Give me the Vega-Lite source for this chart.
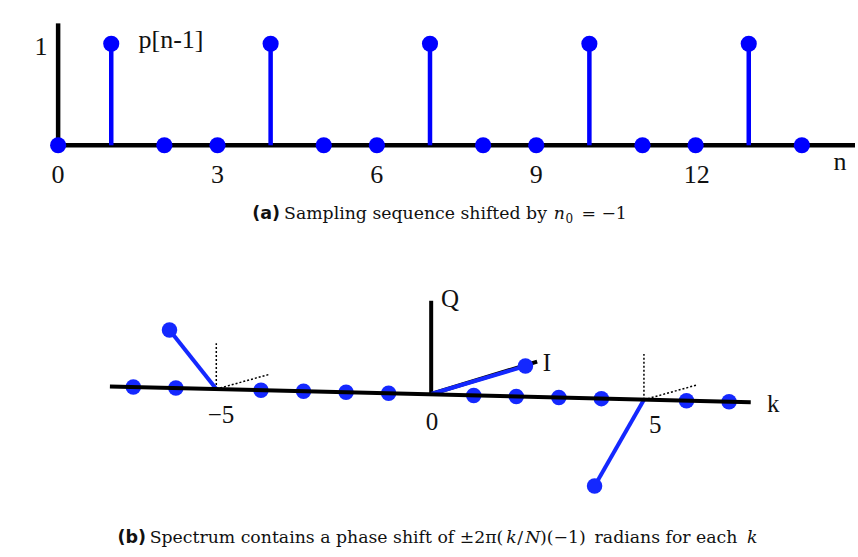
{
  "$schema": "https://vega.github.io/schema/vega-lite/v6.json",
  "width": 858,
  "height": 557,
  "autosize": {"type": "fit", "contains": "padding"},
  "padding": 0,
  "background": "white",
  "config": {"view": {"stroke": null}, "axis": {"disable": true}},
  "datasets": {
    "seq": [
      {"n": 0, "p": 0}, {"n": 1, "p": 1}, {"n": 2, "p": 0}, {"n": 3, "p": 0}, {"n": 4, "p": 1},
      {"n": 5, "p": 0}, {"n": 6, "p": 0}, {"n": 7, "p": 1}, {"n": 8, "p": 0}, {"n": 9, "p": 0},
      {"n": 10, "p": 1}, {"n": 11, "p": 0}, {"n": 12, "p": 0}, {"n": 13, "p": 1}, {"n": 14, "p": 0}
    ],
    "axesA": [
      {"x0": 0, "y0": 0, "x1": 15, "y1": 0},
      {"x0": 0, "y0": 0, "x1": 0, "y1": 1.2}
    ],
    "labelsA": [
      {"x": 0, "y": -0.374, "text": "0"},
      {"x": 3, "y": -0.374, "text": "3"},
      {"x": 6, "y": -0.374, "text": "6"},
      {"x": 9, "y": -0.374, "text": "9"},
      {"x": 12.02, "y": -0.374, "text": "12"},
      {"x": 14.72, "y": -0.244, "text": "n"},
      {"x": -0.32, "y": 0.889, "text": "1"},
      {"x": 2.124, "y": 0.955, "text": "p[n-1]"}
    ],
    "capA_bold": [{"x": 3.653, "y": -0.725, "text": "(a)"}],
    "capA_roman": [
      {"x": 4.253, "y": -0.725, "text": "Sampling sequence shifted by"},
      {"x": 9.85, "y": -0.725, "text": "= −1"}
    ],
    "capA_italic": [{"x": 9.33, "y": -0.725, "text": "n"}],
    "capA_sub": [{"x": 9.55, "y": -0.765, "text": "0"}],
    "spectrum": [
      {"k": -7, "u": -7, "v": 0.083},
      {"k": -6, "u": -6, "v": 0.071},
      {"k": -5, "u": -6.15, "v": 0.762, "u0": -5.05, "v0": 0.059},
      {"k": -4, "u": -4, "v": 0.046},
      {"k": -3, "u": -3, "v": 0.033},
      {"k": -2, "u": -2, "v": 0.020},
      {"k": -1, "u": -1, "v": 0.008},
      {"k": 0, "u": 2.215, "v": 0.333, "u0": 0, "v0": 0},
      {"k": 1, "u": 1, "v": -0.017},
      {"k": 2, "u": 2, "v": -0.030},
      {"k": 3, "u": 3, "v": -0.042},
      {"k": 4, "u": 4, "v": -0.055},
      {"k": 5, "u": 3.84, "v": -1.095, "u0": 5.0, "v0": -0.068},
      {"k": 6, "u": 6, "v": -0.080},
      {"k": 7, "u": 7, "v": -0.093}
    ],
    "guidesB": [
      {"u0": -5.05, "v0": 0.059, "u1": -5.05, "v1": 0.604},
      {"u0": -5.05, "v0": 0.059, "u1": -3.81, "v1": 0.233},
      {"u0": 5.0, "v0": -0.068, "u1": 5.0, "v1": 0.476},
      {"u0": 5.0, "v0": -0.068, "u1": 6.24, "v1": 0.107}
    ],
    "iqAxes": [
      {"u0": 0, "v0": 0, "u1": 0, "v1": 1.11},
      {"u0": 0, "v0": 0, "u1": 2.49, "v1": 0.385}
    ],
    "kAxis": [{"u0": -7.55, "v0": 0.09, "u1": 7.51, "v1": -0.099}],
    "labelsB": [
      {"u": -4.94, "v": -0.349, "text": "−5"},
      {"u": 0.02, "v": -0.429, "text": "0"},
      {"u": 5.265, "v": -0.468, "text": "5"},
      {"u": 8.04, "v": -0.21, "text": "k"},
      {"u": 2.72, "v": 0.277, "text": "I"},
      {"u": 0.445, "v": 1.04, "text": "Q"}
    ],
    "capB_bold": [{"u": -7.37, "v": -1.774, "text": "(b)"}],
    "capB_roman": [
      {"u": -6.616, "v": -1.774, "text": "Spectrum contains a phase shift of ±2π("},
      {"u": 2.02, "v": -1.774, "text": "/"},
      {"u": 2.56, "v": -1.774, "text": ")(−1)"},
      {"u": 3.84, "v": -1.774, "text": "radians for each"}
    ],
    "capB_italic": [
      {"u": 1.763, "v": -1.774, "text": "k"},
      {"u": 2.21, "v": -1.774, "text": "N"},
      {"u": 7.42, "v": -1.774, "text": "k"}
    ]
  },
  "resolve": {"scale": {"x": "independent", "y": "independent"}},
  "layer": [
    {
      "layer": [
        {
          "data": {"name": "axesA"},
          "mark": {"type": "rule", "color": "black", "strokeWidth": 4.5, "strokeCap": "butt"},
          "encoding": {
            "x": {"field": "x0", "type": "quantitative", "scale": {"domain": [-1.094, 15.0], "nice": false, "zero": false}},
            "y": {"field": "y0", "type": "quantitative", "scale": {"domain": [-4.052, 1.43], "nice": false, "zero": false}},
            "x2": {"field": "x1"},
            "y2": {"field": "y1"}
          }
        },
        {
          "data": {"name": "seq"},
          "transform": [{"filter": "datum.p > 0"}],
          "mark": {"type": "rule", "color": "#0000ff", "strokeWidth": 4.5},
          "encoding": {
            "x": {"field": "n", "type": "quantitative", "scale": {"domain": [-1.094, 15.0], "nice": false, "zero": false}},
            "y": {"field": "p", "type": "quantitative", "scale": {"domain": [-4.052, 1.43], "nice": false, "zero": false}},
            "y2": {"datum": 0}
          }
        },
        {
          "data": {"name": "seq"},
          "mark": {"type": "circle", "color": "#0000ff", "opacity": 1, "size": 260},
          "encoding": {
            "x": {"field": "n", "type": "quantitative", "scale": {"domain": [-1.094, 15.0], "nice": false, "zero": false}},
            "y": {"field": "p", "type": "quantitative", "scale": {"domain": [-4.052, 1.43], "nice": false, "zero": false}}
          }
        },
        {
          "data": {"name": "labelsA"},
          "mark": {"type": "text", "font": "Liberation Serif", "fontSize": 26, "align": "center", "baseline": "alphabetic", "color": "#111"},
          "encoding": {
            "x": {"field": "x", "type": "quantitative", "scale": {"domain": [-1.094, 15.0], "nice": false, "zero": false}},
            "y": {"field": "y", "type": "quantitative", "scale": {"domain": [-4.052, 1.43], "nice": false, "zero": false}},
            "text": {"field": "text"}
          }
        },
        {
          "data": {"name": "capA_bold"},
          "mark": {"type": "text", "font": "DejaVu Sans", "fontWeight": "bold", "fontSize": 17.5, "align": "left", "baseline": "alphabetic", "color": "#111"},
          "encoding": {
            "x": {"field": "x", "type": "quantitative", "scale": {"domain": [-1.094, 15.0], "nice": false, "zero": false}},
            "y": {"field": "y", "type": "quantitative", "scale": {"domain": [-4.052, 1.43], "nice": false, "zero": false}},
            "text": {"field": "text"}
          }
        },
        {
          "data": {"name": "capA_roman"},
          "mark": {"type": "text", "font": "DejaVu Serif", "fontSize": 17.3, "align": "left", "baseline": "alphabetic", "color": "#111"},
          "encoding": {
            "x": {"field": "x", "type": "quantitative", "scale": {"domain": [-1.094, 15.0], "nice": false, "zero": false}},
            "y": {"field": "y", "type": "quantitative", "scale": {"domain": [-4.052, 1.43], "nice": false, "zero": false}},
            "text": {"field": "text"}
          }
        },
        {
          "data": {"name": "capA_italic"},
          "mark": {"type": "text", "font": "DejaVu Serif", "fontStyle": "italic", "fontSize": 17.3, "align": "left", "baseline": "alphabetic", "color": "#111"},
          "encoding": {
            "x": {"field": "x", "type": "quantitative", "scale": {"domain": [-1.094, 15.0], "nice": false, "zero": false}},
            "y": {"field": "y", "type": "quantitative", "scale": {"domain": [-4.052, 1.43], "nice": false, "zero": false}},
            "text": {"field": "text"}
          }
        },
        {
          "data": {"name": "capA_sub"},
          "mark": {"type": "text", "font": "DejaVu Serif", "fontSize": 12, "align": "left", "baseline": "alphabetic", "color": "#111"},
          "encoding": {
            "x": {"field": "x", "type": "quantitative", "scale": {"domain": [-1.094, 15.0], "nice": false, "zero": false}},
            "y": {"field": "y", "type": "quantitative", "scale": {"domain": [-4.052, 1.43], "nice": false, "zero": false}},
            "text": {"field": "text"}
          }
        }
      ]
    },
    {
      "layer": [
        {
          "data": {"name": "guidesB"},
          "mark": {"type": "rule", "color": "black", "strokeWidth": 1.5, "strokeDash": [2, 2]},
          "encoding": {
            "x": {"field": "u0", "type": "quantitative", "scale": {"domain": [-10.133, 9.96], "nice": false, "zero": false}},
            "y": {"field": "v0", "type": "quantitative", "scale": {"domain": [-1.94, 4.69], "nice": false, "zero": false}},
            "x2": {"field": "u1"},
            "y2": {"field": "v1"}
          }
        },
        {
          "data": {"name": "iqAxes"},
          "mark": {"type": "rule", "color": "black", "strokeWidth": 4, "strokeCap": "butt"},
          "encoding": {
            "x": {"field": "u0", "type": "quantitative", "scale": {"domain": [-10.133, 9.96], "nice": false, "zero": false}},
            "y": {"field": "v0", "type": "quantitative", "scale": {"domain": [-1.94, 4.69], "nice": false, "zero": false}},
            "x2": {"field": "u1"},
            "y2": {"field": "v1"}
          }
        },
        {
          "data": {"name": "spectrum"},
          "transform": [{"filter": "isValid(datum.u0)"}],
          "mark": {"type": "rule", "color": "#1428ff", "strokeWidth": 4},
          "encoding": {
            "x": {"field": "u0", "type": "quantitative", "scale": {"domain": [-10.133, 9.96], "nice": false, "zero": false}},
            "y": {"field": "v0", "type": "quantitative", "scale": {"domain": [-1.94, 4.69], "nice": false, "zero": false}},
            "x2": {"field": "u"},
            "y2": {"field": "v"}
          }
        },
        {
          "data": {"name": "spectrum"},
          "mark": {"type": "circle", "color": "#1428ff", "opacity": 1, "size": 240},
          "encoding": {
            "x": {"field": "u", "type": "quantitative", "scale": {"domain": [-10.133, 9.96], "nice": false, "zero": false}},
            "y": {"field": "v", "type": "quantitative", "scale": {"domain": [-1.94, 4.69], "nice": false, "zero": false}}
          }
        },
        {
          "data": {"name": "kAxis"},
          "mark": {"type": "rule", "color": "black", "strokeWidth": 4, "strokeCap": "butt"},
          "encoding": {
            "x": {"field": "u0", "type": "quantitative", "scale": {"domain": [-10.133, 9.96], "nice": false, "zero": false}},
            "y": {"field": "v0", "type": "quantitative", "scale": {"domain": [-1.94, 4.69], "nice": false, "zero": false}},
            "x2": {"field": "u1"},
            "y2": {"field": "v1"}
          }
        },
        {
          "data": {"name": "labelsB"},
          "mark": {"type": "text", "font": "Liberation Serif", "fontSize": 25, "align": "center", "baseline": "alphabetic", "color": "#111"},
          "encoding": {
            "x": {"field": "u", "type": "quantitative", "scale": {"domain": [-10.133, 9.96], "nice": false, "zero": false}},
            "y": {"field": "v", "type": "quantitative", "scale": {"domain": [-1.94, 4.69], "nice": false, "zero": false}},
            "text": {"field": "text"}
          }
        },
        {
          "data": {"name": "capB_bold"},
          "mark": {"type": "text", "font": "DejaVu Sans", "fontWeight": "bold", "fontSize": 17.5, "align": "left", "baseline": "alphabetic", "color": "#111"},
          "encoding": {
            "x": {"field": "u", "type": "quantitative", "scale": {"domain": [-10.133, 9.96], "nice": false, "zero": false}},
            "y": {"field": "v", "type": "quantitative", "scale": {"domain": [-1.94, 4.69], "nice": false, "zero": false}},
            "text": {"field": "text"}
          }
        },
        {
          "data": {"name": "capB_roman"},
          "mark": {"type": "text", "font": "DejaVu Serif", "fontSize": 17.3, "align": "left", "baseline": "alphabetic", "color": "#111"},
          "encoding": {
            "x": {"field": "u", "type": "quantitative", "scale": {"domain": [-10.133, 9.96], "nice": false, "zero": false}},
            "y": {"field": "v", "type": "quantitative", "scale": {"domain": [-1.94, 4.69], "nice": false, "zero": false}},
            "text": {"field": "text"}
          }
        },
        {
          "data": {"name": "capB_italic"},
          "mark": {"type": "text", "font": "DejaVu Serif", "fontStyle": "italic", "fontSize": 17.3, "align": "left", "baseline": "alphabetic", "color": "#111"},
          "encoding": {
            "x": {"field": "u", "type": "quantitative", "scale": {"domain": [-10.133, 9.96], "nice": false, "zero": false}},
            "y": {"field": "v", "type": "quantitative", "scale": {"domain": [-1.94, 4.69], "nice": false, "zero": false}},
            "text": {"field": "text"}
          }
        }
      ]
    }
  ]
}
